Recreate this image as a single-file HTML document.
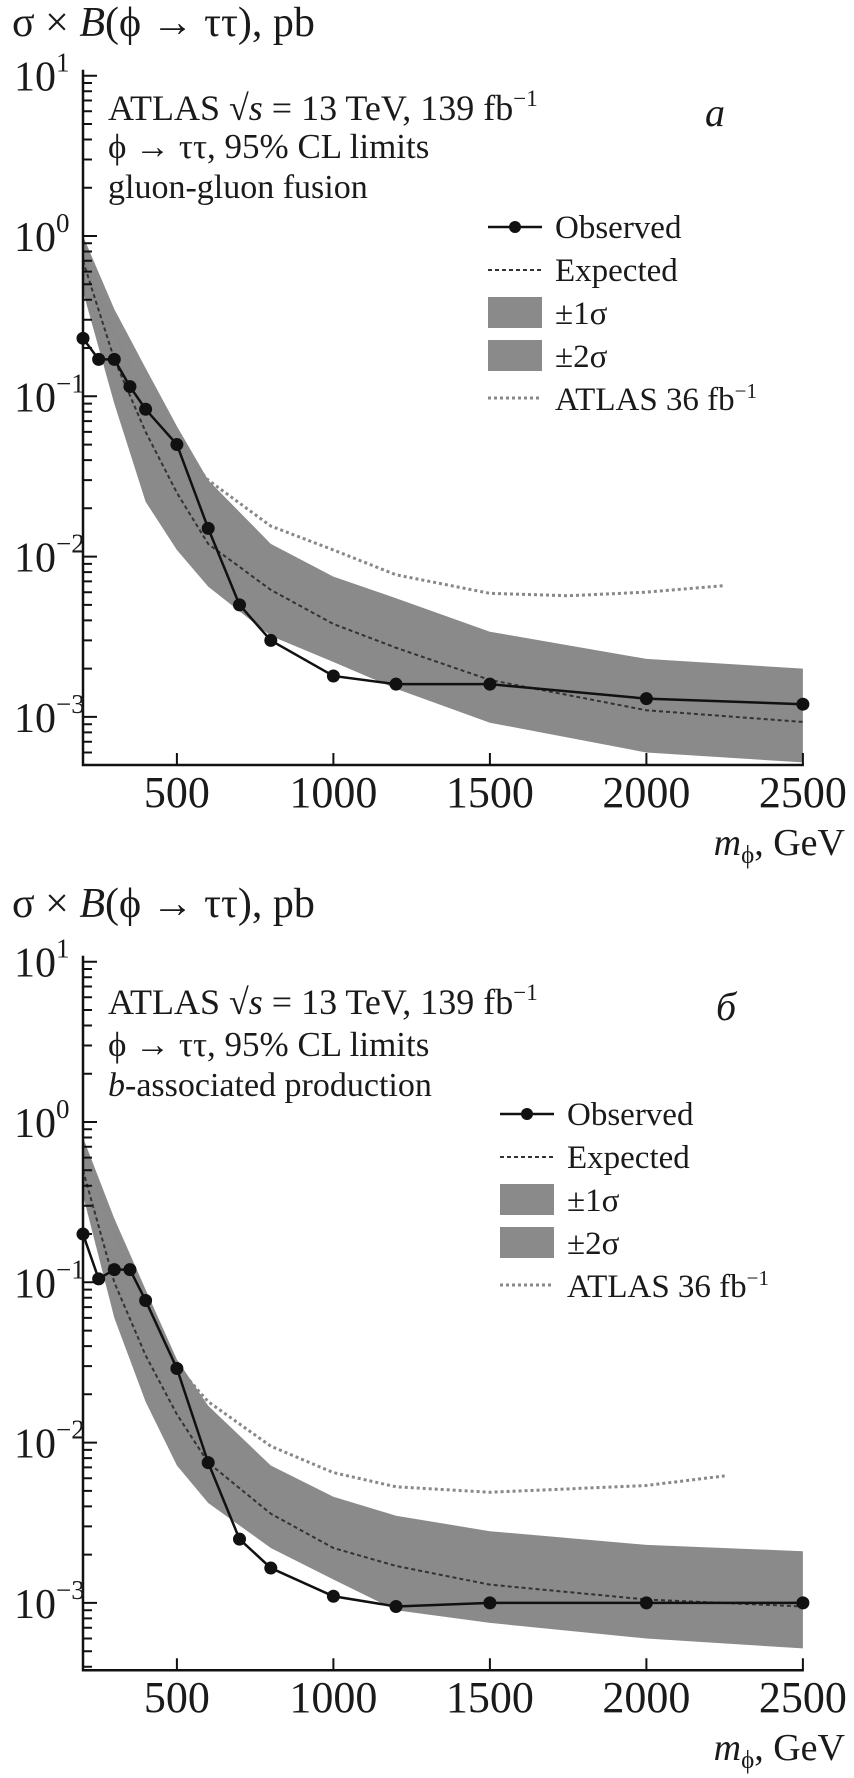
<!DOCTYPE html>
<html><head><meta charset="utf-8"><style>
html,body{margin:0;padding:0;background:#fff;width:854px;height:1778px;overflow:hidden}
svg text{font-family:"Liberation Serif",serif;fill:#1a1a1a}
</style></head><body>
<svg id="fig" width="854" height="1778" viewBox="0 0 854 1778" xmlns="http://www.w3.org/2000/svg"></svg>
<script>
// ---- Panel a data (gluon-gluon fusion) ----
const massObsA = [200,250,300,350,400,500,600,700,800,1000,1200,1500,2000,2500];
const obsA = [0.23,0.17,0.17,0.115,0.083,0.05,0.015,0.005,0.003,0.0018,0.0016,0.0016,0.0013,0.0012];
const massExpA = [200,300,400,500,600,800,1000,1200,1500,2000,2500];
const expA = [0.7,0.17,0.06,0.025,0.012,0.0062,0.0038,0.0027,0.0017,0.0011,0.00093];
const bandLoA = [0.45,0.09,0.022,0.011,0.0065,0.0032,0.0022,0.0015,0.00092,0.0006,0.00052];
const bandHiA = [1.0,0.35,0.15,0.065,0.03,0.012,0.0075,0.0055,0.0034,0.0023,0.002];
const massOldA = [200,300,400,500,600,800,1000,1200,1500,1750,2000,2250];
const oldA = [0.7,0.25,0.1,0.05,0.03,0.0155,0.011,0.0077,0.0059,0.0057,0.006,0.0066];
// ---- Panel b data (b-associated) ----
const massObsB = [200,250,300,350,400,500,600,700,800,1000,1200,1500,2000,2500];
const obsB = [0.2,0.105,0.12,0.12,0.077,0.029,0.0075,0.0025,0.00165,0.0011,0.00095,0.001,0.001,0.001];
const massExpB = [200,300,400,500,600,800,1000,1200,1500,2000,2500];
const expB = [0.5,0.1,0.035,0.015,0.0075,0.0036,0.0022,0.0017,0.0013,0.00105,0.00095];
const bandLoB = [0.35,0.06,0.018,0.0072,0.0042,0.0022,0.0014,0.0009,0.00075,0.0006,0.00052];
const bandHiB = [0.8,0.25,0.09,0.033,0.017,0.0072,0.0046,0.0035,0.0028,0.0023,0.0021];
const massOldB = [200,300,400,500,600,800,1000,1200,1500,2000,2250];
const oldB = [0.7,0.2,0.07,0.03,0.018,0.0095,0.0065,0.0053,0.0049,0.0054,0.0062];
// ---- Axis ticks ----
const xTicks = [500,1000,1500,2000,2500];
const yDecades = [1,0,-1,-2,-3];

const NS="http://www.w3.org/2000/svg";
const svg=document.getElementById('fig');
function mk(tag,attrs,parent){const e=document.createElementNS(NS,tag);for(const k in attrs)e.setAttribute(k,attrs[k]);(parent||svg).appendChild(e);return e;}

function panel(o){
  const g=mk('g',{});
  
  
  const X=m=>83+(m-200)*0.313;
  const Y=v=>o.y0-160.3*Math.log10(v);
  const yBottom=o.y0+160.3*o.ext;
  // title
  const t=mk('text',{x:12,y:o.y0-o.titleOff,'font-size':42},g);
  t.innerHTML='σ × <tspan font-style="italic">B</tspan>(ϕ → ττ), pb';
  
  
  // band
  let d='';
  o.mExp.forEach((m,i)=>{d+=(i?'L':'M')+X(m).toFixed(1)+','+Y(o.hi[i]).toFixed(1);});
  for(let i=o.mExp.length-1;i>=0;i--)d+='L'+X(o.mExp[i]).toFixed(1)+','+Y(o.lo[i]).toFixed(1);
  const band=mk('path',{d:d+'Z',fill:'#8a8a8a'},g);
  
  
  // old
  const old=mk('polyline',{points:o.mOld.map((m,i)=>X(m)+','+Y(o.old[i])).join(' '),fill:'none',stroke:'#888','stroke-width':3,'stroke-dasharray':'3,3'},g);
  
  
  // expected
  const ex=mk('polyline',{points:o.mExp.map((m,i)=>X(m)+','+Y(o.exp[i])).join(' '),fill:'none',stroke:'#333','stroke-width':2,'stroke-dasharray':'4,3'},g);
  
  
  // observed
  const ob=mk('polyline',{points:o.mObs.map((m,i)=>X(m)+','+Y(o.obs[i])).join(' '),fill:'none',stroke:'#111','stroke-width':2.5},g);
  
  
  o.mObs.forEach((m,i)=>{
    const c=mk('circle',{cx:X(m),cy:Y(o.obs[i]),r:6.5,fill:'#111'},g);
    
    
  });
  // axes
  const ax=mk('path',{d:`M83,${o.y0-160.3-6}V${yBottom}H${X(2500)+1}`,fill:'none',stroke:'#111','stroke-width':2.5},g);
  
  
  let tk='';
  for(let dec=1;dec>=-4;dec--){for(let k=1;k<=9;k++){const v=k*Math.pow(10,dec);const y=Y(v);if(y<o.y0-161||y>yBottom)continue;tk+=`M83,${y.toFixed(1)}h${k==1?14:9}`;}}
  xTicks.forEach(m=>{tk+=`M${X(m)},${yBottom}v-12`;});
  mk('path',{d:tk,stroke:'#111','stroke-width':2,fill:'none'},g);
  yDecades.forEach(p=>{
    const tl=mk('text',{x:14,y:Y(Math.pow(10,p))+15,'font-size':42},g);
    tl.innerHTML=`10<tspan dy="-19" font-size="27">${p<0?'−'+(-p):p}</tspan>`;
    
    
  });
  xTicks.forEach(m=>{
    const tl=mk('text',{x:X(m),y:yBottom+42,'font-size':44,'text-anchor':'middle'},g);
    tl.textContent=m;
    
    
  });
  const xt=mk('text',{x:845,y:yBottom+90,'font-size':38,'text-anchor':'end'},g);
  xt.innerHTML='<tspan font-style="italic">m</tspan><tspan font-size="25" dy="8">ϕ</tspan><tspan dy="-8">, GeV</tspan>';
  
  
  // annotation
  const a1=mk('text',{x:108,y:o.y0-o.a[0],'font-size':36},g);
  a1.innerHTML='ATLAS √<tspan font-style="italic">s</tspan> = 13 TeV, 139 fb<tspan dy="-14" font-size="23">−1</tspan>';
  
  
  const a2=mk('text',{x:108,y:o.y0-o.a[1],'font-size':35},g);
  a2.textContent='ϕ → ττ, 95% CL limits';
  
  
  const a3=mk('text',{x:108,y:o.y0-o.a[2],'font-size':34},g);
  a3.innerHTML=o.prod;
  
  
  const pl=mk('text',{x:o.letterX,y:o.y0-o.a[0]+6,'font-size':40,'font-style':'italic'},g);
  pl.textContent=o.letter;
  
  
  // legend
  const lx=o.legX, ly=o.legY, tx=lx+67;
  mk('path',{d:`M${lx},${ly}h54`,stroke:'#111','stroke-width':2.5},g);
  mk('circle',{cx:lx+27,cy:ly,r:6,fill:'#111'},g);
  mk('path',{d:`M${lx},${ly+43}h54`,stroke:'#333','stroke-width':2,'stroke-dasharray':'4,3'},g);
  mk('rect',{x:lx,y:ly+70,width:54,height:31,fill:'#8a8a8a'},g);
  mk('rect',{x:lx,y:ly+113,width:54,height:31,fill:'#8a8a8a'},g);
  mk('path',{d:`M${lx},${ly+171}h54`,stroke:'#888','stroke-width':3,'stroke-dasharray':'3,3'},g);
  const labs=['Observed','Expected','±1σ','±2σ','ATLAS 36 fb<tspan dy="-12" font-size="21">−1</tspan>'];
  labs.forEach((s,i)=>{
    const e=mk('text',{x:tx,y:ly+11+i*43,'font-size':33},g);
    e.innerHTML=s;
    
    
  });
}
panel({name:'panel-a',y0:236,ext:3.3,titleOff:200,a:[116,78,38],mObs:massObsA,obs:obsA,mExp:massExpA,exp:expA,lo:bandLoA,hi:bandHiA,mOld:massOldA,old:oldA,prod:'gluon-gluon fusion',letter:'a',letterX:705,legX:488,legY:227});
panel({name:'panel-b',y0:1122,ext:3.42,titleOff:205,a:[108,66,26],mObs:massObsB,obs:obsB,mExp:massExpB,exp:expB,lo:bandLoB,hi:bandHiB,mOld:massOldB,old:oldB,prod:'<tspan font-style="italic">b</tspan>-associated production',letter:'б',letterX:716,legX:500,legY:1114});
</script>
</body></html>
